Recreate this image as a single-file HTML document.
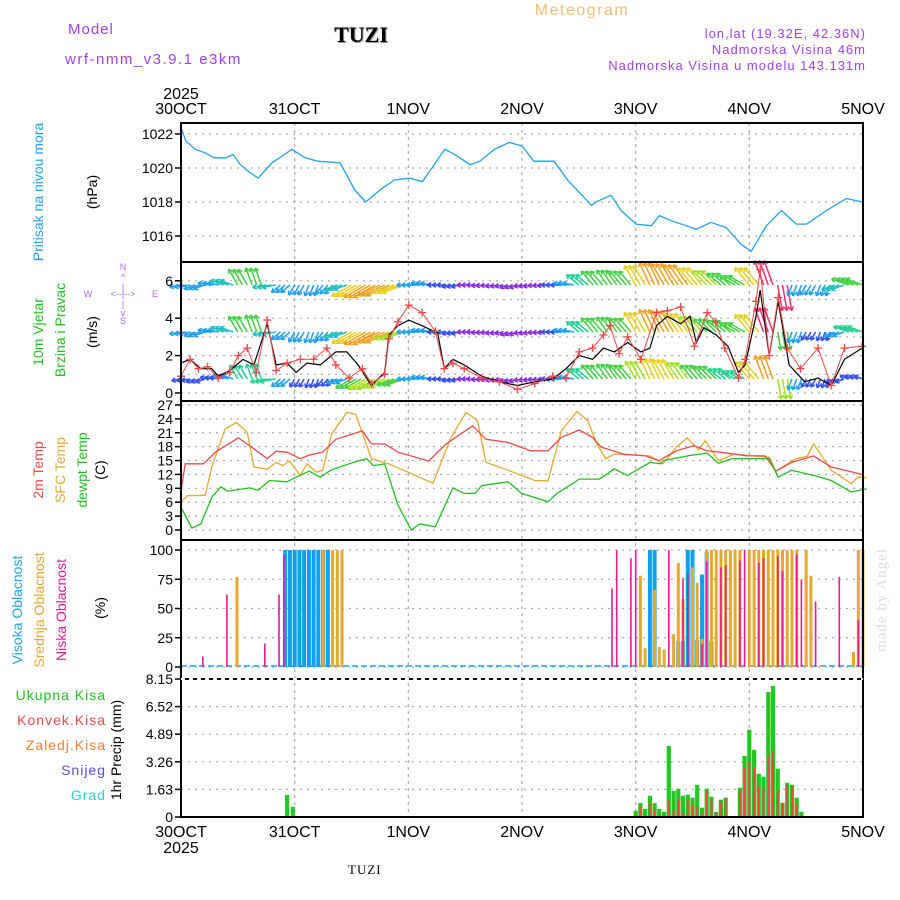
<!DOCTYPE html>
<html><head><meta charset="utf-8">
<style>
body{margin:0;background:#fff;}
svg{display:block;font-family:"Liberation Sans",sans-serif;}
</style></head>
<body>
<svg id="chart" width="900" height="900" viewBox="0 0 900 900">
<g id="header">
<text x="68" y="34" fill="#a040f0" font-size="15" letter-spacing="1">Model</text>
<text x="65" y="64" fill="#a040f0" font-size="15" letter-spacing="1.5">wrf-nmm_v3.9.1 e3km</text>
<text x="362" y="43" fill="#999" font-size="22" font-weight="bold" font-family="Liberation Serif,serif" text-anchor="middle">TUZI</text>
<text x="361" y="42" fill="#000" font-size="22" font-weight="bold" font-family="Liberation Serif,serif" text-anchor="middle">TUZI</text>
<text x="582" y="15" fill="#f0c070" font-size="16" letter-spacing="1.5" text-anchor="middle">Meteogram</text>
<text x="866" y="38" fill="#a040f0" font-size="13" letter-spacing="1" text-anchor="end">lon,lat (19.32E, 42.36N)</text>
<text x="866" y="54" fill="#a040f0" font-size="13" letter-spacing="1" text-anchor="end">Nadmorska Visina 46m</text>
<text x="866" y="70" fill="#a040f0" font-size="13" letter-spacing="1" text-anchor="end">Nadmorska Visina u modelu 143.131m</text>
</g>
<g id="grid"></g>
<g id="marks"></g>
<g id="frames"></g>
<g id="labels">
<text transform="translate(43,192) rotate(-90)" fill="#20a0f0" font-size="14" text-anchor="middle">Pritisak na nivou mora</text>
<text transform="translate(97,192) rotate(-90)" fill="#000" font-size="14" text-anchor="middle">(hPa)</text>
<text transform="translate(43,332) rotate(-90)" fill="#20c020" font-size="14" text-anchor="middle">10m Vjetar</text>
<text transform="translate(65,330) rotate(-90)" fill="#20c020" font-size="14" text-anchor="middle">Brzina i Pravac</text>
<text transform="translate(97,332) rotate(-90)" fill="#000" font-size="14" text-anchor="middle">(m/s)</text>
<g fill="#b060f0" font-size="9" text-anchor="middle">
<text x="123" y="270">N</text><text x="123" y="280">^</text><text x="123" y="290">|</text>
<text x="88" y="297">W</text><text x="123" y="297">&lt;--|--&gt;</text><text x="155" y="297">E</text>
<text x="123" y="307">|</text><text x="123" y="316">v</text><text x="123" y="324">S</text>
</g>
<text transform="translate(43,470) rotate(-90)" fill="#f04848" font-size="14" text-anchor="middle">2m Temp</text>
<text transform="translate(65,470) rotate(-90)" fill="#e8a830" font-size="14" text-anchor="middle">SFC Temp</text>
<text transform="translate(87,470) rotate(-90)" fill="#20c020" font-size="14" text-anchor="middle">dewpt Temp</text>
<text transform="translate(105,470) rotate(-90)" fill="#000" font-size="14" text-anchor="middle">(C)</text>
<text transform="translate(22,610) rotate(-90)" fill="#20a0f0" font-size="14" text-anchor="middle">Visoka Oblacnost</text>
<text transform="translate(44,610) rotate(-90)" fill="#e8a830" font-size="14" text-anchor="middle">Srednja Oblacnost</text>
<text transform="translate(66,610) rotate(-90)" fill="#f01890" font-size="14" text-anchor="middle">Niska Oblacnost</text>
<text transform="translate(105,608) rotate(-90)" fill="#000" font-size="14" text-anchor="middle">(%)</text>
<text x="106" y="700" fill="#20c020" font-size="14" text-anchor="end" letter-spacing="1">Ukupna  Kisa</text>
<text x="106" y="725" fill="#f04848" font-size="14" text-anchor="end" letter-spacing="1">Konvek.Kisa</text>
<text x="106" y="750" fill="#f08030" font-size="14" text-anchor="end" letter-spacing="1">Zaledj.Kisa</text>
<text x="106" y="775" fill="#5050f0" font-size="14" text-anchor="end" letter-spacing="1">Snijeg</text>
<text x="106" y="800" fill="#30d0d0" font-size="14" text-anchor="end" letter-spacing="1">Grad</text>
<text transform="translate(121,750) rotate(-90)" fill="#000" font-size="14" text-anchor="middle">1hr Precip (mm)</text>
<text x="181" y="99" font-size="16" text-anchor="middle" fill="#000">2025</text>
<text x="181" y="853" font-size="16" text-anchor="middle" fill="#000">2025</text>
<text x="348" y="874" font-size="13" font-family="Liberation Serif,serif" fill="#000" letter-spacing="1">TUZI</text>
<text transform="translate(886,600) rotate(-90)" fill="#d8e0d8" font-size="15" font-family="Liberation Serif,serif" text-anchor="middle" letter-spacing="1">made by Angel</text>
</g>
</svg>
<script>
// ---- data ----
const dayLabels = ["30OCT","31OCT","1NOV","2NOV","3NOV","4NOV","5NOV"];
const pressTicks = [1022,1020,1018,1016];
const windTicks = [6,4,2,0];
const tempTicks = [27,24,21,18,15,12,9,6,3,0];
const cloudTicks = [100,75,50,25,0];
const precipTicks = [8.15,6.52,4.89,3.26,1.63,0];

const pressHours = [0,1,3,5,7,9.5,11,12.5,14.2,16.3,19.2,21.9,23.4,26.2,28.9,33.6,36.7,39,42,45.1,48.3,51,55.7,57.8,61,63.1,66.2,69.3,72,74.5,78.8,81.6,86.7,87.6,90.8,92.9,96.1,99.3,101,103.5,108.8,111.9,115.1,118.3,120.4,123.6,126.8,129.9,132.1,136.3,140.5,144];
const pressVals = [1022.4,1021.6,1021.1,1020.9,1020.6,1020.6,1020.8,1020.2,1019.8,1019.4,1020.3,1020.8,1021.1,1020.6,1020.4,1020.3,1018.7,1018,1018.7,1019.3,1019.4,1019.2,1021.1,1020.8,1020.2,1020.4,1021.1,1021.5,1021.3,1020.4,1020.4,1019.3,1017.8,1018,1018.4,1017.5,1016.7,1016.6,1017.2,1016.9,1016.4,1016.8,1016.5,1015.5,1015.1,1016.6,1017.5,1016.7,1016.7,1017.5,1018.2,1018];

const speedHours = [0,1.9,4.2,6.5,7.9,10.3,13.1,15.4,18.2,20.1,22.4,24.3,26.6,29.4,32.7,35,37.4,40.2,43,43.9,45.8,48.1,50.9,54.2,55.6,57.4,59.8,63.5,67.2,71,74.7,78.5,81.3,84.1,86.9,89.2,91.5,94.3,97.1,99,100.4,102.7,105.5,107.5,108.8,110.4,113,115.5,117.7,119.1,121.4,122.3,124.2,126.1,128.4,131.7,134.5,137.3,140.1,143.8];
const speedVals = [1.6,1.8,1.3,1.3,0.9,1.2,1.8,1.5,3.7,1.5,1.6,1.1,1.6,1.5,2.2,2.2,1.5,0.4,1.1,3.1,3.6,3.9,3.6,3.2,1.3,1.8,1.5,0.9,0.6,0.4,0.6,0.75,1.3,2,1.8,2.4,2.2,2.7,2.2,2.4,3.6,4.1,3.7,4.1,2.7,3.5,3.1,2.5,1.1,1.5,4.1,5.5,2,4.9,1.5,0.6,0.8,0.4,1.8,2.4];
const gustHours = [0,1.9,3.7,5.6,7.9,10.3,12.1,14,15.9,18.2,20.1,22.4,25.2,28,30.8,32.7,35.5,38.3,40.2,43,43.9,45.8,48.1,50.9,53.7,55.6,57.4,59.8,63.5,67.2,71,74.7,78.5,81.3,84.1,86.9,89.2,90.6,92.5,94.3,97.1,100.4,102.7,105.5,108.4,111.1,112.9,114.8,117.7,119.1,121.4,122.3,124.2,126.1,128,130.8,134.5,137.3,140.1,143.8];
const gustVals = [0.9,1.8,1.3,1.4,0.8,1.1,2,2.4,1.1,3.9,1.2,1.6,1.8,1.8,2.4,1.5,0.8,1.3,0.5,1,2.9,3.8,4.7,4.3,3.3,1.3,1.6,1.3,0.8,0.6,0.2,0.5,0.9,0.8,2.2,2.4,3.1,3.6,2.1,3,1.8,4.3,4.4,4.6,2.5,4.3,3.8,2.4,0.8,1.8,4.9,6.6,2,5.1,2.4,1.3,2.4,0.4,2.4,2.5];

// wind arrows every 3h: direction the arrow points (deg, 0=east, 90=north) and speed per row
const windDir = [190,200,170,160,120,110,190,220,240,250,230,200,210,210,205,200,180,170,180,190,180,185,190,200,190,185,180,170,140,130,125,130,120,115,120,125,130,135,140,150,130,110,280,250,240,250,200,160,160];
const windTop = [3,3,3,4,6,6,4,3,3,3,3,4,8,9,9,8,3,3,2,2,1.5,1.5,1.5,1.5,1.5,1.5,2,3,5,6,6,6,8,9,9,9,8,7,6,6,8,10,10,3,3,3,4,6,6];
const windMid = [3,3,3,4,6,6,4,3,3,3,3,4,8,9,9,7,3,3,2,2,1.5,1.5,1.5,1.5,1.5,1.5,2,3,5,6,6,6,8,9,9,8,7,6,6,6,8,10,6,3,2,2,3,5,5];
const windBot = [2,2,2,3,5,5,5,3,2,2,2,3,6,7,7,6,3,3,2,2,1.5,1.5,1.5,1.5,1.5,1.5,2,3,5,6,6,6,7,8,8,7,6,6,5,5,8,9,7,3,2,2,2,2,2];

const t2Hours = [0,0.9,4.7,7.5,12.1,14.9,18.2,20.1,22.4,25.2,27.1,29.9,32.7,38.3,40.2,43,45.8,52.3,56,61.6,64.4,69.1,73.8,77.5,80.3,84.1,86.9,88.7,93.4,98.1,100.9,104.6,108.3,111.1,113.9,119.5,123.3,125.6,128.9,133.6,137.3,143.8];
const t2Vals = [8.6,14.3,14.3,17,19.9,17.9,15.4,17,16.8,15.4,16.2,16.8,19.6,21.4,18.6,18.6,16.8,14.9,18.6,22.5,19.6,18.9,17.1,17.1,20,21.6,20,17.9,16.4,16,15,17.1,18.2,17.1,16.8,16,16,12.7,14.6,16,13.6,12];
const sfcHours = [0,1.4,5.1,6.5,9.3,11.7,14,15.4,18.2,20.1,21.5,22.9,25.2,26.6,28.5,29.9,31.8,35,36.9,40.2,43.9,53.2,57,60.2,62.6,64.4,69.1,74.7,77.5,80.3,83.6,85.9,87.8,89.7,91.5,99,101.8,104.6,106.9,109.3,110.7,113.5,116.8,124.2,125.6,129.8,132.2,133.6,137.3,141.5,142.9,144.8];
const sfcVals = [6.1,7.4,7.5,13.6,21.8,23.2,21.1,13.6,13.1,14.6,13.9,14.9,11.8,14.3,12.5,12.9,20.7,25.4,25,15.4,14.3,10.1,20,25.4,23.6,14.6,12.9,10.7,10.6,21.4,25.6,23.6,18.6,15.4,16.4,16,14.3,17.9,19.9,17.3,19.3,15,16.4,15.7,12.7,15.4,15.9,18.6,12.9,10,11.4,11.3];
const dewHours = [0,2.3,4.2,6.5,8.4,9.8,14.5,16.3,18.7,22.4,24.3,27.1,29.4,31.8,36.4,39.2,40.6,43,45.8,48.6,50.4,53.7,57.4,59.8,62.1,63.5,66.3,69.1,71.9,77.5,79.4,84.1,88.3,91.5,94.3,99,101.3,101.8,107.4,111.1,113.5,116.3,119.1,124.2,126.1,128.9,133.6,137.3,141.5,144.8];
const dewVals = [4.9,0.4,1.3,7.1,9.3,8.4,9.1,8.6,10.7,10.4,11.4,12.7,11.4,13,14.6,15.4,13.9,14.3,5.4,0,1.3,0.7,9.1,7.9,7.9,9.6,10,10.4,7.9,6.1,7.9,11,11,13.2,11.8,14.6,14.3,15,16.1,16.6,14.4,15.4,15.4,15.4,11.4,12.9,11.8,10.7,8.2,8.9];

const highHours = [22,23,24,25,26,27,28,29,30,31,99,100,105,106,107,108,109,110,111,112];
const highVals = [100,100,100,100,100,100,100,100,100,100,100,100,22,22,100,100,23,79,98,22];
const midHours = [11.8,30,32,33,34,97,98,100,101,102,104,105,106,108,109,110,111,112,113,114,115,116,117,118,120,121,122,123,124,125,126,127,128,129,130,132,133,135,142,143,144];
const midVals = [77,100,100,100,100,78,16,66,17,15,28,89,58,85,72,24,100,100,100,100,100,100,100,100,100,100,100,100,100,100,100,100,100,100,100,100,78,1,13,100,100];
const lowHours = [4.6,9.7,17.7,20.7,21.7,91,92,95,96,103,106,107,110,111,114,115,118,119,122,123,126,127,130,131,134,139,143];
const lowVals = [9,62,20,62,96,67,100,93,100,100,76,80,20,90,85,87,91,100,89,93,95,82,96,75,56,77,40];

const rainHours = [21.5,22.4,23.6,96,97,98,99,100,101,102,103,104,105,106,107,108,109,110,111,112,113,114,115,118,119,120,121,122,123,124,125,126,127,128,129,130,131];
const rainTotal = [0.05,1.3,0.6,0.37,0.82,0.47,1.26,0.82,0.47,0.31,4.2,1.55,1.67,1.26,1.32,1.14,1.9,0.55,1.67,1.2,0.3,1.02,1.14,1.73,3.6,5.15,3.97,2.55,2.38,7.38,7.74,2.85,0.84,2.02,1.9,1.14,0.31];
const rainConv = [0,0,0,0.1,0.6,0.1,0.8,0.4,0.1,0,1.0,0.4,1.1,0.3,1.0,0.7,0.6,0.2,1.6,1.1,0.25,0.9,1.1,1.6,2.9,3.3,2.9,1.8,1.7,3.6,3.9,1.6,0.8,1.9,1.8,0.8,0.1];

// ---- scales ----
const X0=181, X1=863;
const xH = h => X0 + h*(X1-X0)/144;
const yP = p => 134 + (1022-p)*17;
const yW = v => 393 - v*18.7;
const yT = t => 530 - t*4.63;
const yC = c => 667 - c*1.17;
const yR = r => 817 - r*138/8.15;
const panels = [[123,262],[262,401],[401,540],[540,679],[679,817]];
const NS='http://www.w3.org/2000/svg';
function mk(tag, attrs, parent){const e=document.createElementNS(NS,tag);for(const k in attrs)e.setAttribute(k,attrs[k]);parent.appendChild(e);return e;}
const grid=document.getElementById('grid'), marks=document.getElementById('marks'), frames=document.getElementById('frames'), labels=document.getElementById('labels');

dayLabels.forEach((d,i)=>{
  const x = xH(i*24);
  if(i>0 && i<6){
    const l=mk('line',{x1:x,x2:x,y1:123,y2:817,stroke:'#aaa','stroke-width':1.2,'stroke-dasharray':'3,4'},grid);
    
    
  }
  const t1=mk('text',{x:x,y:114,'font-size':16,'text-anchor':'middle',fill:'#000'},labels); t1.textContent=d;
  
  
  const t2=mk('text',{x:x,y:837,'font-size':16,'text-anchor':'middle',fill:'#000'},labels); t2.textContent=d;
  
  
});
function hgrid(vals, yf, fmt){
  vals.forEach(v=>{
    const y=yf(v);
    const l=mk('line',{x1:X0,x2:X1,y1:y,y2:y,stroke:'#aaa','stroke-width':1.2,'stroke-dasharray':'2,5'},grid);
    
    
    const tk=mk('line',{x1:X0-6,x2:X0,y1:y,y2:y,stroke:'#000','stroke-width':1.5},grid);
    
    
    const t=mk('text',{x:173,y:y+5,'font-size':14,'text-anchor':'end',fill:'#000'},labels); t.textContent=fmt?fmt(v):v;
    
    
  });
}
hgrid(pressTicks,yP);
hgrid(windTicks,yW);
[1,3,5].forEach(v=>{const y=yW(v);const l=mk('line',{x1:X0,x2:X1,y1:y,y2:y,stroke:'#aaa','stroke-width':1.2,'stroke-dasharray':'2,5'},grid);
  
  });
hgrid(tempTicks,yT);
hgrid(cloudTicks,yC);
hgrid(precipTicks,yR,v=>v===0?'0':v.toFixed(2));

function polyline(hs, vs, yf, color, name, w){
  const pts=hs.map((h,i)=>xH(h).toFixed(1)+','+yf(vs[i]).toFixed(1)).join(' ');
  const p=mk('polyline',{points:pts,fill:'none',stroke:color,'stroke-width':w||1.3},marks);
  
  
  return p;
}
polyline(pressHours,pressVals,yP,'#20a0f0','pressure-line');

function speedColor(s){
  if(s<=1.5) return '#8a2be2';
  if(s<=2.5) return '#3050f0';
  if(s<=3.5) return '#20a0f0';
  if(s<=4.5) return '#20c0c0';
  if(s<=5.5) return '#20d090';
  if(s<=6.5) return '#40d040';
  if(s<=7.5) return '#a0e020';
  if(s<=8.5) return '#e8d020';
  if(s<=9.5) return '#f0a020';
  return '#f03070';
}
function arrowRow(speeds, yBase, name){
  speeds.forEach((s,i)=>{
    const a=windDir[i]*Math.PI/180, L=Math.min(26,5+s*2.2);
    const c=speedColor(s);
    const reps = i===speeds.length-1 ? 1 : 3;
    for(let k=0;k<reps;k++){
      const x=xH(i*3+k), y=yBase;
      const x2=x+L*Math.cos(a), y2=y-L*Math.sin(a);
      const g=mk('g',{stroke:c,'stroke-width':1.5,fill:'none'},marks);
      
      
      mk('line',{x1:x,y1:y,x2:x2,y2:y2},g);
      const hb=4.5;
      [a+2.6,a-2.6].forEach(b=>mk('line',{x1:x2,y1:y2,x2:x2+hb*Math.cos(b),y2:y2-hb*Math.sin(b)},g));
    }
  });
}
arrowRow(windTop,285,'wind-arrow-upper');
arrowRow(windMid,332,'wind-arrow-middle');
arrowRow(windBot,379,'wind-arrow-lower');
polyline(speedHours,speedVals,yW,'#000','wind-speed-line',1.2);
polyline(gustHours,gustVals,yW,'#f04848','wind-gust-line',1);
gustHours.forEach((h,i)=>{
  const x=xH(h), y=yW(gustVals[i]);
  const c=mk('path',{d:`M${x-4},${y}H${x+4}M${x},${y-4}V${y+4}`,stroke:'#f04848','stroke-width':1.3},marks);
  
  
});

polyline(sfcHours,sfcVals,yT,'#e8a830','sfc-temp-line');
polyline(t2Hours,t2Vals,yT,'#f04848','temp-2m-line');
polyline(dewHours,dewVals,yT,'#20c020','dewpoint-line');

function bars(hs, vs, yf, color, w, name){
  hs.forEach((h,i)=>{
    const x=xH(h), y=yf(vs[i]), y0=yf(0);
    const r=mk('rect',{x:(x-w/2).toFixed(1),y:y.toFixed(1),width:w,height:Math.max(0,y0-y).toFixed(1),fill:color},marks);
    
    
  });
}
const base=mk('line',{x1:X0,x2:X1,y1:yC(0)-1,y2:yC(0)-1,stroke:'#20a0f0','stroke-width':1.5,'stroke-dasharray':'6,3'},marks);


bars(highHours,highVals,yC,'#10a0f0',4,'high-cloud-bar');
bars(midHours,midVals,yC,'#e8a830',3,'mid-cloud-bar');
bars(lowHours,lowVals,yC,'#f01890',1.6,'low-cloud-bar');

bars(rainHours,rainTotal,yR,'#20c820',4.2,'total-rain-bar');
bars(rainHours,rainConv,yR,'#f04848',2,'convective-rain-bar');

panels.forEach((p,i)=>{
  const r=mk('rect',{x:X0,y:p[0],width:X1-X0,height:p[1]-p[0],fill:'none',stroke:'#000','stroke-width':2},frames);
  
  
});
const dl=mk('line',{x1:X0,x2:X1,y1:679,y2:679,stroke:'#fff','stroke-width':2,'stroke-dasharray':'4,4'},frames);


</script>
</body></html>
